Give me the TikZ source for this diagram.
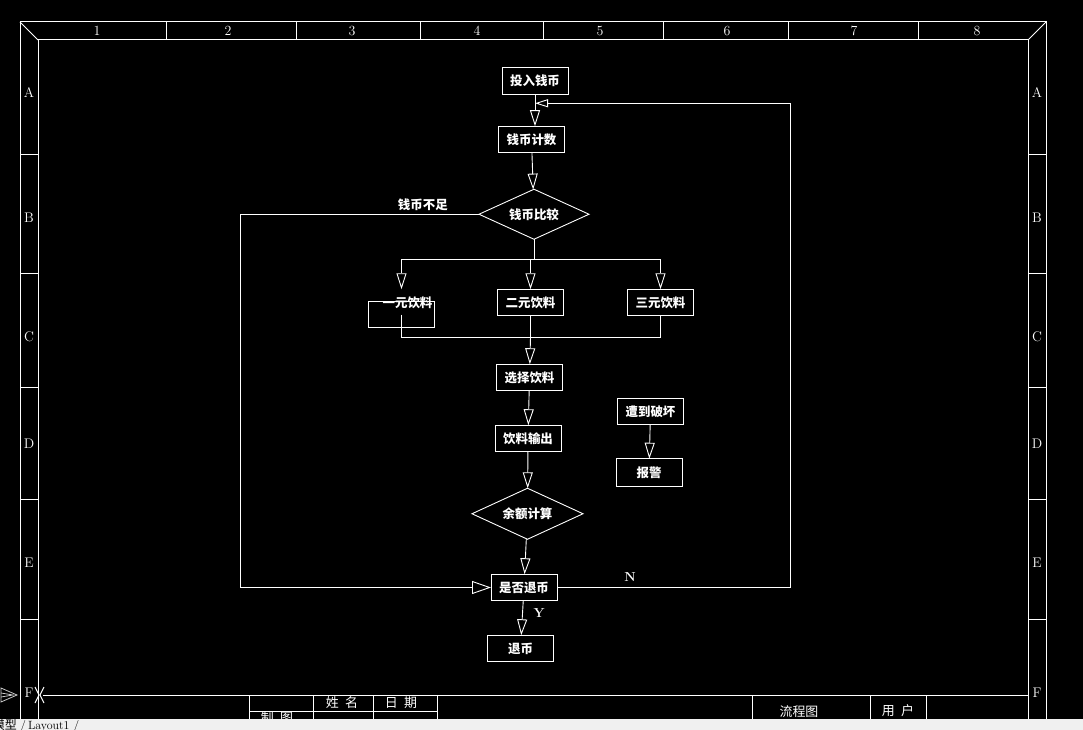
\documentclass[tikz,border=0pt]{standalone}
\usepackage{fontspec}
\usepackage{tikz}
\usetikzlibrary{arrows.meta,positioning,calc,shapes.geometric}
\newfontfamily\cjk{Noto Sans CJK SC}
\definecolor{vmback}{HTML}{000000}
\definecolor{vmline}{HTML}{FFFFFF}
\definecolor{vmbar}{HTML}{F0F0F0}
\definecolor{vmicon}{HTML}{C8C8C8}
\tikzset{
  vm/box/.style={
    draw=vmline, text=vmline, line width=0.9bp, inner sep=0pt, outer sep=0pt,
    minimum width=66bp, minimum height=26.5bp,
    font=\cjk\bfseries\fontsize{12.5}{13}\selectfont
  },
  vm/dec/.style={
    diamond, aspect=2.2, draw=vmline, text=vmline, line width=0.9bp, inner sep=0pt, outer sep=0pt,
    minimum width=110bp, minimum height=50bp,
    font=\cjk\bfseries\fontsize{12.5}{13}\selectfont
  },
  vm/txt/.style={text=vmline, inner sep=0pt, font=\cjk\bfseries\fontsize{12.5}{13}\selectfont},
  vm/lbl/.style={text=vmline, inner sep=0pt, font=\bfseries\fontsize{13}{13}\selectfont},
  vm/grid/.style={text=vmline, inner sep=0pt, font=\fontsize{14}{14}\selectfont},
  vm/title/.style={text=vmline, inner sep=0pt, font=\cjk\fontsize{13}{13}\selectfont},
  vm/frame/.style={vmline, line width=1bp},
  vm/line/.style={vmline, line width=0.9bp},
  vm/arr/.style={-{Triangle[open, length=16bp, width=10bp]}, vmline, line width=0.9bp},
  vm/arrb/.style={-{Triangle[open, length=19bp, width=13bp]}, vmline, line width=0.9bp},
  vm/arrs/.style={-{Triangle[open, length=13bp, width=8bp]}, vmline, line width=0.9bp}
}

\begin{document}
\begin{tikzpicture}[x=1bp, y=-1bp]
  \fill[vmback] (0,0) rectangle (1083,730);
  \useasboundingbox (0,0) rectangle (1083,730);

  % drawing frame
  \draw[vm/frame] (20,730) -- (20,22) -- (1046,22) -- (1046,730);
  \draw[vm/frame] (38,730) -- (38,40) -- (1028,40) -- (1028,730);
  \draw[vm/frame] (20,22) -- (38,40);
  \draw[vm/frame] (1046,22) -- (1028,40);
  \draw[vm/frame] (43,695) -- (1028,695);
  \foreach \x in {166,296,420,543,663,788,918}
    \draw[vm/frame] (\x,22) -- (\x,40);
  \foreach \x/\n in {97/1,228/2,352/3,477/4,600/5,727/6,854/7,977/8}
    \node[vm/grid] (col\n) at (\x,31) {\n};
  \foreach \y in {155,273,387,499,619} {
    \draw[vm/frame] (20,\y) -- (38,\y);
    \draw[vm/frame] (1028,\y) -- (1046,\y);
  }
  \foreach \y/\r in {93/A,218/B,337/C,444/D,563/E,693/F} {
    \node[vm/grid] (left\r) at (29,\y) {\r};
    \node[vm/grid] (right\r) at (1037,\y) {\r};
  }
  \draw[vm/line] (35,687) -- (39,695) -- (35,703);
  \draw[vm/line] (44,687) -- (40,695) -- (44,703);
  \draw[vmicon, line width=0.8bp] (1,688) -- (17,695) -- (1,702) -- cycle;
  \draw[vmicon, line width=0.8bp] (1,693) -- (13,695) -- (1,697);

  % title block
  \foreach \x in {249,313,373,437,752,870,926}
    \draw[vm/frame] (\x,695) -- (\x,730);
  \draw[vm/frame] (249,711) -- (437,711);
  \node[vm/title] (tname) at (342,703) {姓\enspace 名};
  \node[vm/title] (tdate) at (401,703) {日\enspace 期};
  \node[vm/title] (tdraw) at (277,718) {制\enspace 图};
  \node[vm/title] (tchart) at (799,712) {流程图};
  \node[vm/title] (tuser) at (898,711) {用\enspace 户};

  % flow chart
  \node[vm/box] (coin) at (535,81) {投入钱币};
  \node[vm/box, below=32bp of coin, xshift=-3.5bp] (count) {钱币计数};
  \node[vm/dec, below=36.5bp of count, xshift=2.5bp] (cmp) {钱币比较};
  \node[vm/box, below=50bp of cmp, xshift=-3.5bp] (two) {二元饮料};
  \node[vm/box, left=63bp of two, yshift=-12bp] (one) {};
  \node[vm/txt] (onetxt) at ([xshift=6bp, yshift=-2bp]one.north) {一元饮料};
  \node[vm/box, right=64bp of two] (three) {三元饮料};
  \node[vm/box, below=48.5bp of two, xshift=-1bp] (sel) {选择饮料};
  \node[vm/box, below=34.5bp of sel, xshift=-1.5bp] (out) {饮料输出};
  \node[vm/dec, minimum width=111bp, minimum height=51bp, below=36.5bp of out, xshift=-0.5bp] (calc) {余额计算};
  \node[vm/box, below=35bp of calc, xshift=-3.5bp] (ret) {是否退币};
  \node[vm/box, below=34.5bp of ret, xshift=-3.5bp] (refund) {退币};
  \node[vm/box, right=55bp of sel, yshift=-34bp] (dmg) {遭到破坏};
  \node[vm/box, minimum height=28bp, below=34bp of dmg, xshift=-1.5bp] (alarm) {报警};

  \coordinate[below=20bp of cmp] (split);
  \coordinate[below=21.5bp of two] (join);
  \coordinate[below=9bp of coin.south] (back);
  \coordinate[left=239bp of cmp.west] (loopL);
  \coordinate[right=233bp of ret.east] (loopR);

  \draw[vm/arr] (coin.south) -- (coin.south |- count.north);
  \draw[vm/arr] (count) -- (cmp);
  \draw[vm/line] (cmp) -- (split);
  \draw[vm/line] (split -| one) -- (split -| three);
  \draw[vm/arr] (split -| one) -- (one |- two.north);
  \draw[vm/arr] (split -| two) -- (two);
  \draw[vm/arr] (split -| three) -- (three);
  \draw[vm/line] (one.center) |- (join -| three) -- (three);
  \draw[vm/line] (two) -- (join);
  \draw[vm/arr] (join) -- (sel);
  \draw[vm/arr] (sel) -- (out);
  \draw[vm/arr] (out) -- (calc);
  \draw[vm/arr] (calc) -- (ret);
  \draw[vm/arr] (ret) -- (refund);
  \draw[vm/arr] (dmg) -- (alarm);
  \draw[vm/arrb] (cmp.west) -- (loopL) |- (ret.west);
  \draw[vm/arrs] (ret.east) -- (loopR) |- (back);

  \node[vm/txt, left=31bp of cmp.west, yshift=10bp] (short) {钱币不足};
  \node[vm/lbl] (nolab) at ([xshift=73bp, yshift=10bp]ret.east) {N};
  \node[vm/lbl] (yeslab) at ([xshift=15bp, yshift=-12bp]ret.south) {Y};

  % layout tabs
  \fill[vmbar] (0,719) rectangle (1083,730);
  \node[inner sep=0pt, anchor=base east, font=\cjk\fontsize{12}{12}\selectfont] (tabmodel) at (17,729.5) {模型};
  \node[inner sep=0pt, anchor=base west, font=\fontsize{12}{12}\selectfont] (tablayout) at (20,729.5) {/\,Layout1 /};
\end{tikzpicture}
\end{document}
